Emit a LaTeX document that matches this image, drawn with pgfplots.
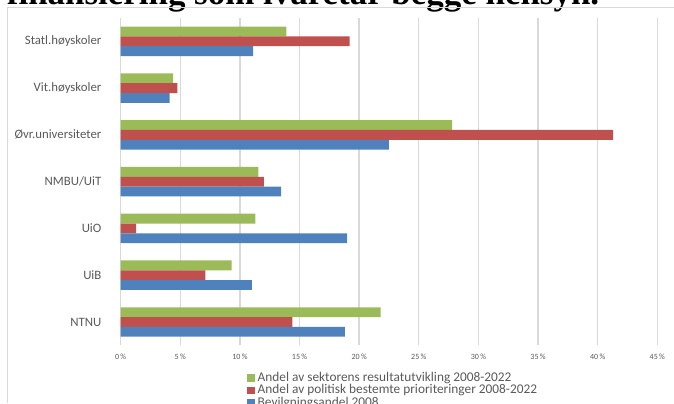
\documentclass[border=0pt]{standalone}
\usepackage{fontspec}
\setmainfont{Carlito}
\newfontfamily\titlefont{Liberation Serif}
\usepackage{pgfplots}
\pgfplotsset{compat=1.18}
\definecolor{sgreen}{HTML}{9BBB59}
\definecolor{sred}{HTML}{C0504D}
\definecolor{sblue}{HTML}{4F81BD}
\definecolor{gridgray}{HTML}{D9D9D9}
\definecolor{labgray}{HTML}{595959}

\begin{document}
\begin{tikzpicture}
% page = 674 x 403 px, 1 px = 0.75pt
\useasboundingbox (0,0) rectangle (505.5pt,302.25pt);
\clip (0,0) rectangle (505.5pt,302.25pt);
% title line, cut off at the top
\node[anchor=base west, inner sep=0pt, font=\titlefont\bfseries\fontsize{26.2}{29}\selectfont]
  at (5pt,299pt) {finansiering som ivaretar begge hensyn.};
% chart frame
\draw[gridgray, line width=0.75pt] (5.5pt,0pt) -- (5.5pt,296.25pt) -- (510pt,296.25pt);
\begin{axis}[
    at={(90.5pt,43.2pt)}, anchor=south west,
    scale only axis,
    width=402.45pt, height=245.6pt,
    xbar, bar width=0.21,
    xmin=0, xmax=45, ymin=-0.5, ymax=6.5,
    xtick={0,5,...,45},
    ytick={0,...,6},
    yticklabels={NTNU,UiB,UiO,NMBU/UiT,Øvr.universiteter,Vit.høyskoler,Statl.høyskoler},
    xticklabel={\pgfmathprintnumber{\tick}\,\%},
    xticklabel style={anchor=center, yshift=-8.5pt, inner sep=0pt,
        font=\fontsize{6}{7}\selectfont, text=labgray},
    yticklabel style={anchor=east, inner sep=0pt, xshift=-10pt,
        font=\fontsize{9.6}{12}\selectfont, text=labgray},
    /pgf/number format/assume math mode=true,
    axis line style={draw=none},
    tick style={draw=none},
    xmajorgrids, ymajorgrids=false,
    grid style={gridgray, line width=1pt},
    legend style={at={(0.228,-0.072)}, anchor=north west, draw=none, fill=none,
        font=\fontsize{10}{12}\selectfont, text=labgray, row sep=0pt,
        nodes={inner sep=0pt, text height=7pt, text depth=2.3pt, anchor=west}},
    legend cell align=left,
    legend image code/.code={\fill (0pt,-2.75pt) rectangle (5.5pt,2.75pt);},
]
\addplot[fill=sgreen, draw=none, bar shift=0.21] coordinates {
    (21.8,0) (9.3,1) (11.3,2) (11.55,3) (27.8,4) (4.4,5) (13.9,6)};
\addlegendentry{\hspace{2.3pt}Andel av sektorens resultatutvikling 2008-2022}
\addplot[fill=sred, draw=none, bar shift=0] coordinates {
    (14.4,0) (7.1,1) (1.3,2) (12.0,3) (41.3,4) (4.75,5) (19.2,6)};
\addlegendentry{\hspace{2.3pt}Andel av politisk bestemte prioriteringer 2008-2022}
\addplot[fill=sblue, draw=none, bar shift=-0.21] coordinates {
    (18.8,0) (11.0,1) (19.0,2) (13.45,3) (22.5,4) (4.1,5) (11.1,6)};
\addlegendentry{\hspace{2.3pt}Bevilgningsandel 2008}
\end{axis}
\end{tikzpicture}
\end{document}
